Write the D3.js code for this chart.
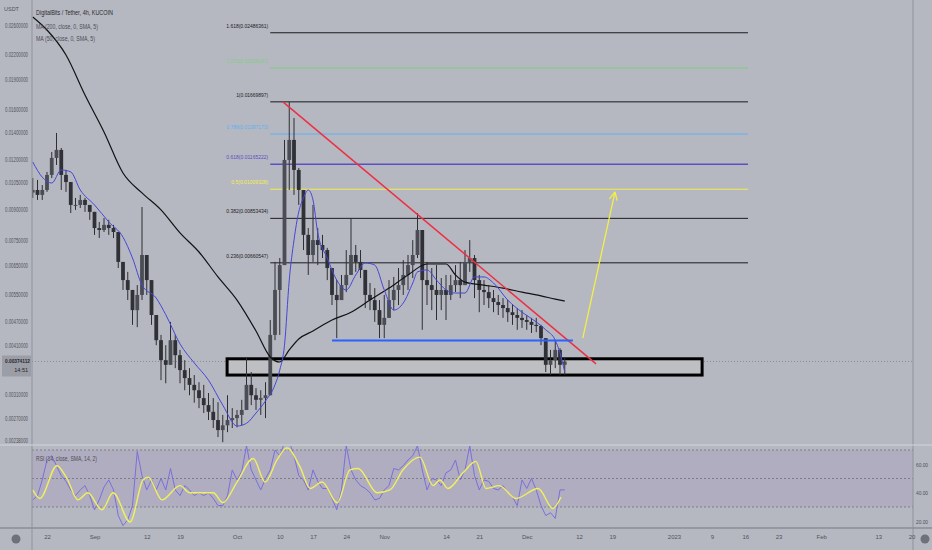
<!DOCTYPE html>
<html>
<head>
<meta charset="utf-8">
<script src="https://cdn.jsdelivr.net/npm/d3@7"></script>
<style>
    html, body { margin: 0; padding: 0; background: #b6b8c1; }
    svg { display: block; font-family: "Liberation Sans", Arial, sans-serif; }
</style>
</head>
<body>
<svg id="chart" width="932" height="550"></svg>
<script>
/* global d3 */

// daily candles (one per day from firstDay), USDT
var firstDay = "2022-08-19";
var firstOpen = 0.00990;

var priceHigh = [
    0.01077, 0.01065, 0.01034, 0.01115, 0.01251, 0.01396, 0.01280, 0.01128, 0.01034, 0.00960,
    0.00977, 0.00960, 0.00922, 0.00886, 0.00836, 0.00855, 0.00846, 0.00822, 0.00789, 0.00664,
    0.00627, 0.00565, 0.00581, 0.00911, 0.00691, 0.00581, 0.00481, 0.00436, 0.00411, 0.00470,
    0.00436, 0.00400, 0.00377, 0.00360, 0.00346, 0.00332, 0.00327, 0.00312, 0.00303, 0.00296,
    0.00275, 0.00308, 0.00286, 0.00283, 0.00300, 0.00382, 0.00352, 0.00321, 0.00317, 0.00332,
    0.00475, 0.00664, 0.00679, 0.01341, 0.01669, 0.01522, 0.01141, 0.00949, 0.00807, 0.00922,
    0.00807, 0.00776, 0.00720, 0.00641, 0.00598, 0.00616, 0.00711, 0.00855, 0.00732, 0.00711,
    0.00616, 0.00588, 0.00571, 0.00533, 0.00549, 0.00598, 0.00609, 0.00641, 0.00671, 0.00691,
    0.00753, 0.00880, 0.00776, 0.00664, 0.00641, 0.00652, 0.00605, 0.00616, 0.00616, 0.00652,
    0.00664, 0.00711, 0.00753, 0.00691, 0.00616, 0.00598, 0.00581, 0.00565, 0.00549, 0.00539,
    0.00533, 0.00518, 0.00509, 0.00503, 0.00489, 0.00481, 0.00481, 0.00462, 0.00428, 0.00400,
    0.00423, 0.00404, 0.00382
];
var priceLow = [
    0.00960, 0.00949, 0.00949, 0.00994, 0.01077, 0.01161, 0.01005, 0.00994, 0.00880, 0.00896,
    0.00906, 0.00886, 0.00846, 0.00776, 0.00762, 0.00789, 0.00776, 0.00762, 0.00641, 0.00565,
    0.00533, 0.00462, 0.00456, 0.00533, 0.00549, 0.00462, 0.00411, 0.00336, 0.00330, 0.00377,
    0.00360, 0.00330, 0.00317, 0.00308, 0.00295, 0.00286, 0.00278, 0.00267, 0.00255, 0.00242,
    0.00235, 0.00249, 0.00255, 0.00256, 0.00259, 0.00283, 0.00291, 0.00283, 0.00275, 0.00270,
    0.00314, 0.00423, 0.00436, 0.00664, 0.01005, 0.00977, 0.00922, 0.00711, 0.00616, 0.00664,
    0.00652, 0.00679, 0.00598, 0.00518, 0.00428, 0.00543, 0.00558, 0.00634, 0.00627, 0.00605,
    0.00509, 0.00503, 0.00470, 0.00428, 0.00428, 0.00481, 0.00503, 0.00518, 0.00549, 0.00565,
    0.00605, 0.00679, 0.00449, 0.00518, 0.00503, 0.00475, 0.00503, 0.00475, 0.00533, 0.00558,
    0.00539, 0.00581, 0.00627, 0.00539, 0.00497, 0.00518, 0.00509, 0.00497, 0.00489, 0.00481,
    0.00470, 0.00462, 0.00449, 0.00454, 0.00449, 0.00441, 0.00443, 0.00411, 0.00352, 0.00346,
    0.00360, 0.00346, 0.00346
];
var priceClose = [
    0.01005, 0.00977, 0.01005, 0.01096, 0.01209, 0.01266, 0.01096, 0.01052, 0.00922, 0.00922,
    0.00949, 0.00922, 0.00886, 0.00807, 0.00798, 0.00822, 0.00807, 0.00789, 0.00664, 0.00598,
    0.00565, 0.00503, 0.00549, 0.00691, 0.00598, 0.00489, 0.00423, 0.00377, 0.00367, 0.00423,
    0.00388, 0.00356, 0.00340, 0.00327, 0.00317, 0.00303, 0.00291, 0.00280, 0.00267, 0.00252,
    0.00259, 0.00267, 0.00270, 0.00275, 0.00283, 0.00327, 0.00308, 0.00300, 0.00303, 0.00308,
    0.00436, 0.00565, 0.00652, 0.01195, 0.01341, 0.01128, 0.01005, 0.00776, 0.00691, 0.00753,
    0.00732, 0.00711, 0.00641, 0.00549, 0.00533, 0.00581, 0.00616, 0.00691, 0.00664, 0.00634,
    0.00549, 0.00533, 0.00503, 0.00462, 0.00481, 0.00533, 0.00565, 0.00581, 0.00616, 0.00652,
    0.00691, 0.00798, 0.00598, 0.00581, 0.00565, 0.00549, 0.00565, 0.00549, 0.00581, 0.00598,
    0.00581, 0.00664, 0.00679, 0.00598, 0.00565, 0.00558, 0.00539, 0.00527, 0.00518, 0.00509,
    0.00497, 0.00489, 0.00481, 0.00475, 0.00470, 0.00462, 0.00459, 0.00428, 0.00367, 0.00377,
    0.00400, 0.00367, 0.00374112
];

var ma200Dates = ["2022-08-19", "2022-08-22", "2022-08-26", "2022-08-30", "2022-09-03", "2022-09-07",
    "2022-09-11", "2022-09-15", "2022-09-19", "2022-09-23", "2022-09-27", "2022-10-01", "2022-10-05",
    "2022-10-08", "2022-10-10", "2022-10-12", "2022-10-14", "2022-10-17", "2022-10-21", "2022-10-25",
    "2022-10-29", "2022-11-02", "2022-11-06", "2022-11-10", "2022-11-14", "2022-11-16", "2022-11-18",
    "2022-11-22", "2022-11-26", "2022-11-30", "2022-12-04", "2022-12-07", "2022-12-09"];
var ma200Values = [0.02723, 0.02526, 0.02187, 0.01737, 0.01404, 0.01108, 0.00988, 0.00896, 0.00785,
    0.00703, 0.00609, 0.00533, 0.00446, 0.00384, 0.00373, 0.00400, 0.00426, 0.00446, 0.00475, 0.00497,
    0.00533, 0.00571, 0.00616, 0.00656, 0.00656, 0.00616, 0.00591, 0.00581, 0.00571, 0.00558, 0.00546,
    0.00536, 0.00530];

var ma50Dates = ["2022-08-19", "2022-08-21", "2022-08-23", "2022-08-25", "2022-08-27", "2022-08-29",
    "2022-09-01", "2022-09-04", "2022-09-07", "2022-09-09", "2022-09-11", "2022-09-14", "2022-09-16",
    "2022-09-19", "2022-09-22", "2022-09-25", "2022-09-28", "2022-10-01", "2022-10-03", "2022-10-05",
    "2022-10-07", "2022-10-09", "2022-10-10", "2022-10-11", "2022-10-12", "2022-10-13", "2022-10-14",
    "2022-10-15", "2022-10-16", "2022-10-17", "2022-10-18", "2022-10-20", "2022-10-22", "2022-10-24",
    "2022-10-26", "2022-10-28", "2022-10-30", "2022-11-01", "2022-11-03", "2022-11-05", "2022-11-07",
    "2022-11-08", "2022-11-10", "2022-11-12", "2022-11-14", "2022-11-16", "2022-11-18", "2022-11-20",
    "2022-11-22", "2022-11-24", "2022-11-27", "2022-11-30", "2022-12-03", "2022-12-05", "2022-12-07",
    "2022-12-08", "2022-12-09"];
var ma50Values = [0.01181, 0.01082, 0.01046, 0.01128, 0.01115, 0.01005, 0.00922, 0.00836, 0.00766,
    0.00679, 0.00581, 0.00539, 0.00490, 0.00414, 0.00371, 0.00336, 0.00291, 0.00258, 0.00262, 0.00278,
    0.00298, 0.00327, 0.00356, 0.00411, 0.00598, 0.00753, 0.00886, 0.00960, 0.01005, 0.00949, 0.00785,
    0.00679, 0.00598, 0.00565, 0.00616, 0.00660, 0.00652, 0.00565, 0.00503, 0.00524, 0.00588, 0.00627,
    0.00634, 0.00598, 0.00565, 0.00555, 0.00555, 0.00609, 0.00609, 0.00588, 0.00533, 0.00497, 0.00470,
    0.00449, 0.00423, 0.00393, 0.00352];

// RSI(14), one reading per candle day
var rsiValues = [
    35, 38, 49, 63, 66, 59, 52, 48, 42, 38,
    42, 45, 38, 28, 35, 44, 49, 42, 24, 17,
    21, 31, 69, 52, 42, 49, 42, 50, 42, 57,
    42, 38, 45, 42, 38, 40, 38, 40, 36, 31,
    31, 38, 56, 49, 55, 73, 56, 49, 42, 50,
    56, 70, 66, 75, 76, 66, 52, 49, 42, 56,
    48, 43, 43, 36, 28, 42, 73, 56, 49, 45,
    43, 40, 35, 36, 42, 45, 57, 56, 59, 63,
    66, 73, 56, 42, 50, 49, 45, 54, 56, 63,
    49, 56, 73, 52, 42, 49, 48, 43, 42, 45,
    40, 37, 31, 49, 43, 50, 42, 31, 24, 26,
    22, 42, 42
];
var rsiMaDates = ["2022-08-19 00", "2022-08-20 12", "2022-08-24 02", "2022-08-26 05", "2022-08-28 12",
    "2022-08-30 14", "2022-09-02 14", "2022-09-04 22", "2022-09-08 12", "2022-09-11 05", "2022-09-12 07",
    "2022-09-15 05", "2022-09-19 00", "2022-09-21 02", "2022-09-26 00", "2022-09-28 00", "2022-10-01 00",
    "2022-10-04 10", "2022-10-06 22", "2022-10-09 10", "2022-10-11 12", "2022-10-14 07", "2022-10-16 10",
    "2022-10-18 22", "2022-10-22 02", "2022-10-24 19", "2022-10-26 12", "2022-10-30 12", "2022-11-02 05",
    "2022-11-04 22", "2022-11-08 12", "2022-11-11 07", "2022-11-12 17", "2022-11-14 10", "2022-11-17 14",
    "2022-11-20 07", "2022-11-22 10", "2022-11-25 05", "2022-11-28 17", "2022-12-03 10", "2022-12-06 12",
    "2022-12-08 05"];
var rsiMaValues = [42, 36, 59, 50, 35, 40, 28, 40, 19.5, 49, 51, 35, 45, 40, 40, 33, 47.5, 64, 47.5, 63,
    71.5, 58, 43, 47.5, 33, 56, 57, 40, 42, 56, 65, 45, 49, 43, 54, 62, 43, 45, 36, 43, 29, 37];

// fibonacci retracement
var fibLevels = [1.618, 1.272, 1, 0.786, 0.618, 0.5, 0.382, 0.236];
var fibPrices = [0.02486361, 0.02029247, 0.01669897, 0.01387173, 0.01165222, 0.01009328, 0.00853434, 0.00660547];
var fibColors = ["#1b1b1f", "#7fcc82", "#1b1b1f", "#5cb0f2", "#5b4fc4", "#f3ee4c", "#1b1b1f", "#1b1b1f"];
var fibSpan = ["2022-10-08 00", "2023-01-16 14"];

// drawings
var trendLine = [["2022-10-10 16", 0.01669897], ["2022-12-15 14", 0.00369]];
var supportLine = [["2022-10-21 00", 0.00422], ["2022-12-10 17", 0.00422]];
var targetArrow = [["2022-12-12 19", 0.00428], ["2022-12-19 14", 0.00994]];
var zoneDates = ["2022-09-28 22", "2023-01-06 22"];
var zonePrices = [0.00380, 0.00346];
var lastPrice = 0.00374112;

var priceTicks = [0.026, 0.022, 0.019, 0.016, 0.014, 0.012, 0.0105, 0.009, 0.0075, 0.0065, 0.0055,
    0.0047, 0.0041, 0.0031, 0.0027, 0.00238];
var rsiTicks = [60, 40, 20];
var timeTicks = ["2022-08-22", "2022-09-01", "2022-09-12", "2022-09-19", "2022-10-01", "2022-10-10",
    "2022-10-17", "2022-10-24", "2022-11-01", "2022-11-14", "2022-11-21", "2022-12-01", "2022-12-12",
    "2022-12-19", "2023-01-01", "2023-01-09", "2023-01-16", "2023-01-23", "2023-02-01", "2023-02-13",
    "2023-02-20"];
var timeTickLabels = ["22", "Sep", "12", "19", "Oct", "10", "17", "24", "Nov", "14", "21", "Dec", "12",
    "19", "2023", "9", "16", "23", "Feb", "13", "20"];

var parseDay = d3.timeParse("%Y-%m-%d");
var parseHour = d3.timeParse("%Y-%m-%d %H");

var left = 32, right = 913,
    mainBottom = 444,
    rsiTop = 446, rsiBottom = 528;

var svg = d3.select("#chart");

var x = d3.scaleTime()
    .domain([parseDay("2022-08-22"), parseDay("2023-02-20")])
    .range([47, 911.5]);
var y = d3.scaleLog()
    .domain([0.026, 0.00238])
    .range([25, 440]);
var yRsi = d3.scaleLinear()
    .domain([70, 30])
    .range([450, 507]);

var day0 = parseDay(firstDay);
var candles = priceClose.map(function (c, i) {
    return {
        date: d3.timeDay.offset(day0, i),
        open: i ? priceClose[i - 1] : firstOpen,
        high: priceHigh[i],
        low: priceLow[i],
        close: c
    };
});

var defs = svg.append("defs");
defs.append("clipPath").attr("id", "clipMain")
    .append("rect").attr("x", left).attr("y", 0).attr("width", right - left).attr("height", mainBottom);
defs.append("clipPath").attr("id", "clipRsi")
    .append("rect").attr("x", left).attr("y", rsiTop).attr("width", right - left).attr("height", rsiBottom - rsiTop);

svg.append("rect")
    .attr("width", 932).attr("height", 550)
    .attr("fill", "#b6b8c1");

var main = svg.append("g").attr("clip-path", "url(#clipMain)");

// last price dotted line
main.append("line")
    .attr("x1", left).attr("x2", right)
    .attr("y1", y(lastPrice)).attr("y2", y(lastPrice))
    .attr("stroke", "#8a8d96")
    .attr("stroke-dasharray", "1,2");

// support zone
main.append("rect")
    .attr("x", x(parseHour(zoneDates[0])))
    .attr("y", y(zonePrices[0]))
    .attr("width", x(parseHour(zoneDates[1])) - x(parseHour(zoneDates[0])))
    .attr("height", y(zonePrices[1]) - y(zonePrices[0]))
    .attr("fill", "#bebfc3")
    .attr("stroke", "#000")
    .attr("stroke-width", 3);

// fib levels
var fib = main.append("g");
var fibX1 = x(parseHour(fibSpan[0])), fibX2 = x(parseHour(fibSpan[1]));
fibLevels.forEach(function (lvl, i) {
    fib.append("line")
        .attr("x1", fibX1).attr("x2", fibX2)
        .attr("y1", y(fibPrices[i])).attr("y2", y(fibPrices[i]))
        .attr("stroke", fibColors[i])
        .attr("stroke-width", lvl === 0.618 ? 1.4 : 1);
    var label = lvl + "(" + fibPrices[i].toFixed(8) + ")";
    fib.append("text")
        .attr("x", fibX1 - 2)
        .attr("y", y(fibPrices[i]) - 5)
        .attr("text-anchor", "end")
        .attr("font-size", 6)
        .attr("textLength", label.length * 2.47)
        .attr("lengthAdjust", "spacingAndGlyphs")
        .attr("fill", fibColors[i])
        .text(label);
});

// candles
var candleG = main.append("g");
candleG.selectAll("line")
    .data(candles)
    .enter().append("line")
    .attr("x1", function (d) { return x(d.date); })
    .attr("x2", function (d) { return x(d.date); })
    .attr("y1", function (d) { return y(Math.max(d.high, d.open, d.close)); })
    .attr("y2", function (d) { return y(Math.min(d.low, d.open, d.close)); })
    .attr("stroke", "#2e2f33")
    .attr("stroke-width", 1);
candleG.selectAll("rect")
    .data(candles)
    .enter().append("rect")
    .attr("x", function (d) { return x(d.date) - 1.9; })
    .attr("width", 3.8)
    .attr("y", function (d) { return y(Math.max(d.open, d.close)); })
    .attr("height", function (d) { return Math.max(1, Math.abs(y(d.open) - y(d.close))); })
    .attr("fill", function (d) { return d.close >= d.open ? "#4b4d54" : "#303136"; });

// moving averages
var maLine = d3.line()
    .x(function (d) { return x(d.date); })
    .y(function (d) { return y(d.value); })
    .curve(d3.curveMonotoneX);

main.append("path")
    .datum(ma200Dates.map(function (d, i) { return { date: parseDay(d), value: ma200Values[i] }; }))
    .attr("fill", "none")
    .attr("stroke", "#111214")
    .attr("stroke-width", 1.2)
    .attr("d", maLine);

main.append("path")
    .datum(ma50Dates.map(function (d, i) { return { date: parseDay(d), value: ma50Values[i] }; }))
    .attr("fill", "none")
    .attr("stroke", "#4646d8")
    .attr("stroke-width", 1)
    .attr("d", maLine);

// trend drawings
function drawSegment(pts, colour, w) {
    return main.append("line")
        .attr("x1", x(parseHour(pts[0][0]))).attr("y1", y(pts[0][1]))
        .attr("x2", x(parseHour(pts[1][0]))).attr("y2", y(pts[1][1]))
        .attr("stroke", colour)
        .attr("stroke-width", w);
}
drawSegment(trendLine, "#ee2f43", 1.5);
drawSegment(supportLine, "#2962ff", 2);
drawSegment(targetArrow, "#f4ef45", 1.3);

var ax = x(parseHour(targetArrow[1][0])), ay = y(targetArrow[1][1]);
var ang = Math.atan2(y(targetArrow[0][1]) - ay, x(parseHour(targetArrow[0][0])) - ax);
[-0.45, 0.45].forEach(function (da) {
    main.append("line")
        .attr("x1", ax).attr("y1", ay)
        .attr("x2", ax + 9 * Math.cos(ang + da))
        .attr("y2", ay + 9 * Math.sin(ang + da))
        .attr("stroke", "#f4ef45")
        .attr("stroke-width", 1.3);
});

// RSI pane
var rsi = svg.append("g").attr("clip-path", "url(#clipRsi)");
rsi.append("rect")
    .attr("x", left).attr("width", right - left)
    .attr("y", yRsi(70)).attr("height", yRsi(30) - yRsi(70))
    .attr("fill", "rgba(126,87,194,0.11)");
[70, 50, 30].forEach(function (v) {
    rsi.append("line")
        .attr("x1", left).attr("x2", right)
        .attr("y1", yRsi(v)).attr("y2", yRsi(v))
        .attr("stroke", "#7c7f8a")
        .attr("stroke-dasharray", "2,2");
});

rsi.append("path")
    .datum(rsiValues.map(function (v, i) { return { date: d3.timeDay.offset(day0, i), value: v }; }))
    .attr("fill", "none")
    .attr("stroke", "#7a6fdc")
    .attr("stroke-width", 1)
    .attr("d", d3.line()
        .x(function (d) { return x(d.date); })
        .y(function (d) { return yRsi(d.value); }));

rsi.append("path")
    .datum(rsiMaDates.map(function (d, i) { return { date: parseHour(d), value: rsiMaValues[i] }; }))
    .attr("fill", "none")
    .attr("stroke", "#f2ef5e")
    .attr("stroke-width", 1.4)
    .attr("d", d3.line()
        .x(function (d) { return x(d.date); })
        .y(function (d) { return yRsi(d.value); })
        .curve(d3.curveMonotoneX));

// frame lines
svg.append("line").attr("x1", left).attr("x2", left).attr("y1", 0).attr("y2", 550)
    .attr("stroke", "#8e919a");
svg.append("line").attr("x1", right).attr("x2", right).attr("y1", 0).attr("y2", 550)
    .attr("stroke", "#8e919a");
svg.append("line").attr("x1", 0).attr("x2", 932).attr("y1", 445).attr("y2", 445)
    .attr("stroke", "#d3d5db");
svg.append("line").attr("x1", 0).attr("x2", 932).attr("y1", rsiBottom).attr("y2", rsiBottom)
    .attr("stroke", "#8a8d96").attr("stroke-width", 1.5);

// price axis
var yAxis = svg.append("g")
    .attr("transform", "translate(28,0)")
    .call(d3.axisLeft(y).tickValues(priceTicks).tickFormat(d3.format(".8f")).tickSize(0).tickPadding(0));
yAxis.select(".domain").remove();
yAxis.selectAll("text")
    .attr("font-size", 6.5)
    .attr("fill", "#4f525c")
    .attr("textLength", 23)
    .attr("lengthAdjust", "spacingAndGlyphs");

svg.append("text")
    .attr("x", 4).attr("y", 11)
    .attr("font-size", 5.5)
    .attr("fill", "#4f525c")
    .text("USDT");

// last price tag
svg.append("rect")
    .attr("x", 2).attr("y", y(lastPrice) - 6)
    .attr("width", 29).attr("height", 21)
    .attr("fill", "#9c9ea7");
svg.append("text")
    .attr("x", 30).attr("y", y(lastPrice) + 2)
    .attr("text-anchor", "end")
    .attr("font-size", 6)
    .attr("font-weight", "bold")
    .attr("fill", "#26272b")
    .attr("textLength", 25)
    .attr("lengthAdjust", "spacingAndGlyphs")
    .text(lastPrice.toFixed(8));
svg.append("text")
    .attr("x", 28).attr("y", y(lastPrice) + 11)
    .attr("text-anchor", "end")
    .attr("font-size", 5.5)
    .attr("fill", "#26272b")
    .text("14:51");

// RSI axis
var rAxis = svg.append("g")
    .attr("transform", "translate(" + (right + 3) + ",0)")
    .call(d3.axisRight(yRsi).tickValues(rsiTicks).tickFormat(d3.format(".2f")).tickSize(0).tickPadding(0));
rAxis.select(".domain").remove();
rAxis.selectAll("text")
    .attr("font-size", 6)
    .attr("fill", "#4f525c")
    .attr("textLength", 12)
    .attr("lengthAdjust", "spacingAndGlyphs");

// time axis
var tAxis = svg.append("g")
    .attr("transform", "translate(0,535)")
    .call(d3.axisBottom(x)
        .tickValues(timeTicks.map(parseDay))
        .tickFormat(function (d, i) { return timeTickLabels[i]; })
        .tickSize(0).tickPadding(0));
tAxis.select(".domain").remove();
tAxis.selectAll("text")
    .attr("font-size", 6)
    .attr("fill", "#4f525c");

svg.append("circle").attr("cx", 16).attr("cy", 539).attr("r", 4.5).attr("fill", "#6e717a");
svg.append("circle").attr("cx", 925).attr("cy", 539).attr("r", 4.5).attr("fill", "#6e717a");

// legends
var legend = [
    ["DigitalBits / Tether, 4h, KUCOIN", 15, "#2a2b30", 77],
    ["MA (200, close, 0, SMA, 5)", 28.5, "#4a4d56", 62],
    ["MA (50, close, 0, SMA, 5)", 41, "#4a4d56", 59],
    ["RSI (14, close, SMA, 14, 2)", 460.5, "#4a4d56", 61]
];
legend.forEach(function (l) {
    svg.append("text")
        .attr("x", 36).attr("y", l[1])
        .attr("font-size", 7)
        .attr("fill", l[2])
        .attr("textLength", l[3])
        .attr("lengthAdjust", "spacingAndGlyphs")
        .text(l[0]);
});
</script>
</body>
</html>
